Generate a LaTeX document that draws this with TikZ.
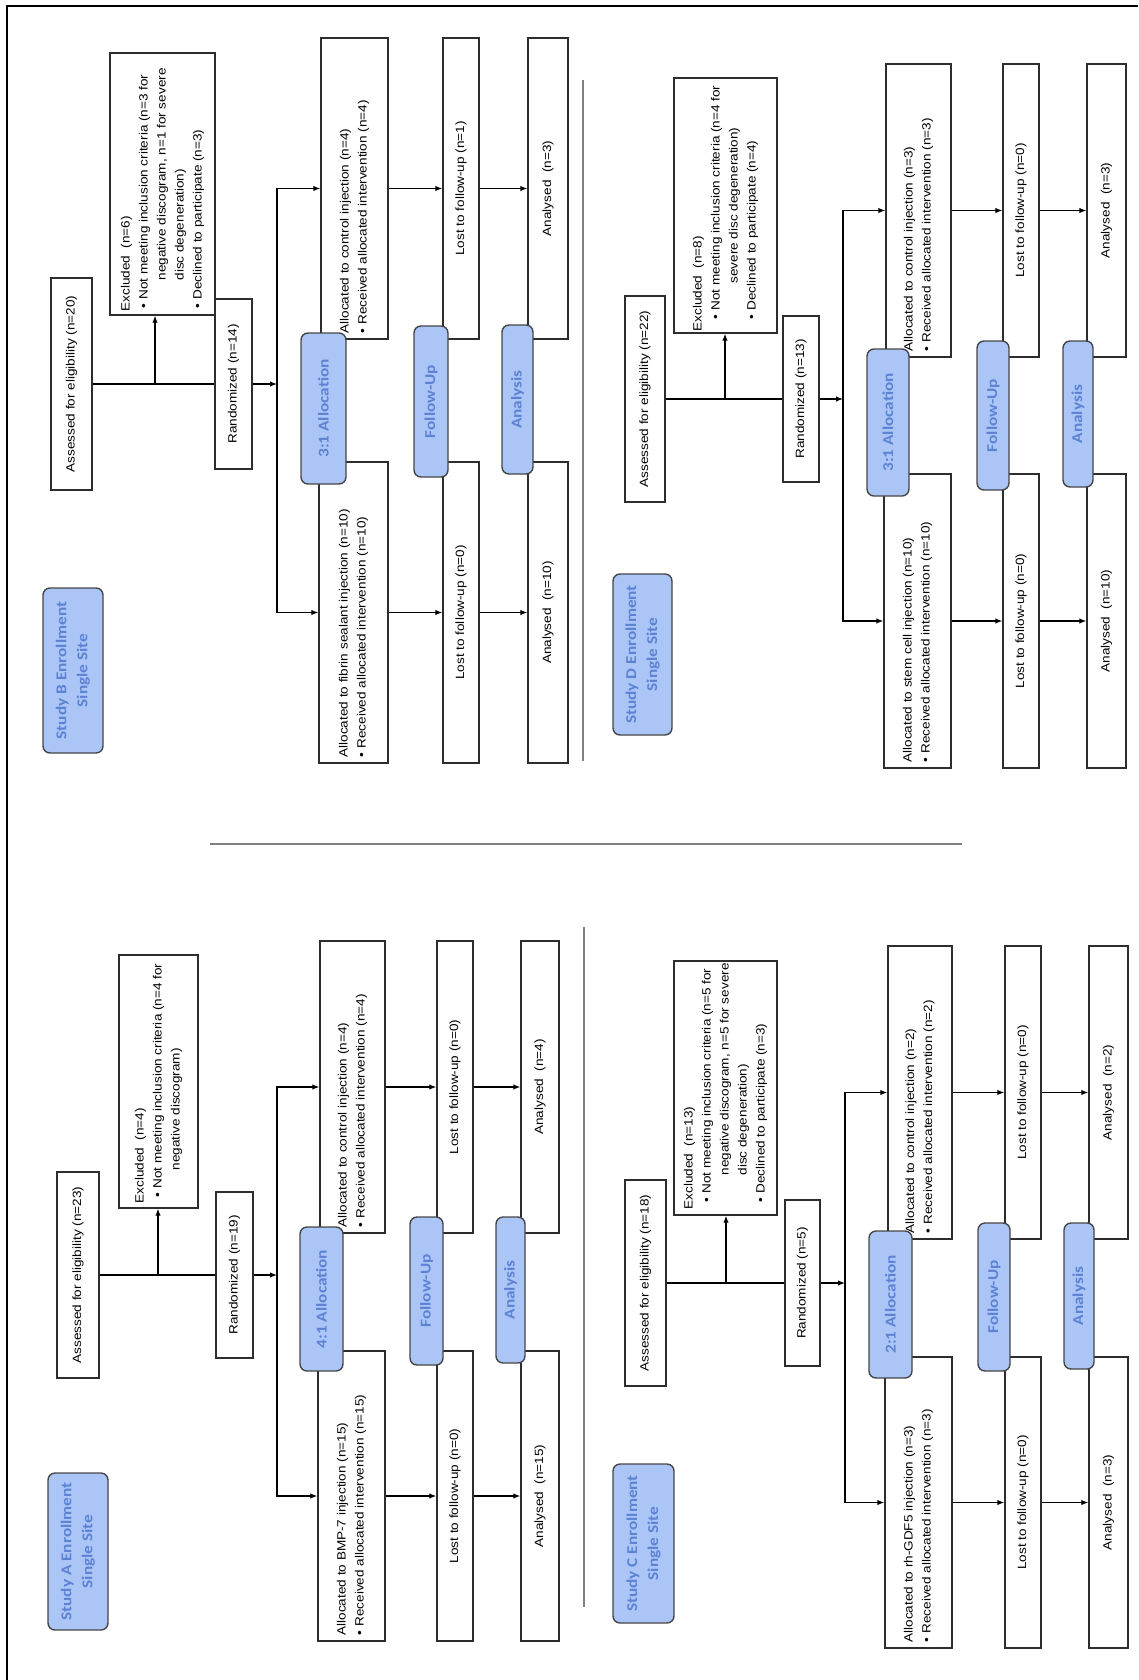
\documentclass[tikz,border=0pt]{standalone}
\usepackage{fontspec}
\usetikzlibrary{arrows.meta}
\newfontfamily\boxfont{Liberation Sans}[FakeStretch=1.13]
\newfontfamily\labfont{Carlito}[FakeStretch=1.15]
\definecolor{lblfill}{RGB}{171,197,246}
\definecolor{lbltext}{RGB}{92,130,212}
\definecolor{lblline}{RGB}{70,70,70}
\definecolor{boxline}{RGB}{45,45,45}
\definecolor{sepgray}{RGB}{128,128,128}
\tikzset{
 box/.style={draw=boxline, line width=1.4pt, rotate=90, inner sep=0pt, align=center,
   font=\boxfont\fontsize{12}{18}\selectfont},
 stage/.style={draw=lblline, fill=lblfill, line width=1.4pt, rounded corners=7pt, rotate=90,
   inner sep=0pt, text=lbltext, align=center, font=\labfont\bfseries\fontsize{15}{21}\selectfont},
 txt/.style={rotate=90, anchor=west, inner sep=0pt, align=left,
   font=\boxfont\fontsize{12}{18}\selectfont},
 ln/.style={line width=1.2pt, black},
 arr/.style={ln, -{Latex[length=7pt,width=5.5pt]}},
 sepline/.style={line width=2.5pt, sepgray},
}
\newcommand{\mkbox}[7][box]{\node[#1,minimum width={#6-#5},minimum height={#4-#3}] (#2) at ({(#3+#4)/2},{-(#5+#6)/2}) {#7};}
\newcommand{\mktxt}[3]{\node[txt] (#1) at (#2.west) {#3};}
\newcommand{\bul}{\makebox[9pt][l]{•}}
\newcommand{\alloctxt}[4]{\mktxt{#1}{#2}{\hspace*{6pt}#3\\\hspace*{6pt}\bul #4}}
\begin{document}
\begin{tikzpicture}[x=1pt,y=1pt]
\useasboundingbox (0,0) rectangle (1138,-1680);
\draw[line width=2pt] (7,-1680) -- (7,-6) -- (1138,-6);
% separators
\draw[sepline] (210,-844) -- (962,-844);
\draw[sepline] (583,-80) -- (583,-761);
\draw[sepline] (584,-927) -- (584,-1607);

%================ Study B
\mkbox{assB}{51}{92}{278}{490}{Assessed for eligibility (n=20)}
\mkbox{exclB}{110}{215}{53}{315}{}
\mkbox{randB}{215}{252}{299}{469}{Randomized (n=14)}
\mkbox{ctrlB}{321}{388}{38}{339}{}
\mkbox{fibB}{319}{388}{462}{763}{}
\mkbox{lostB1}{443}{479}{38}{339}{Lost to follow-up (n=1)}
\mkbox{lostB2}{443}{479}{462}{763}{Lost to follow-up (n=0)}
\mkbox{anB1}{528}{568}{38}{339}{Analysed\ \ (n=3)}
\mkbox{anB2}{528}{568}{462}{763}{Analysed\ \ (n=10)}
\mktxt{exclBt}{exclB}{\hspace*{4pt}Excluded\ \ (n=6)\\
 \hspace*{7pt}\bul Not meeting inclusion criteria (n=3 for\\
 \hspace*{35pt}negative discogram, n=1 for severe\\
 \hspace*{35pt}disc degeneration)\\
 \hspace*{7pt}\bul Declined to participate (n=3)}
\alloctxt{ctrlBt}{ctrlB}{Allocated to control injection (n=4)}{Received allocated intervention (n=4)}
\alloctxt{fibBt}{fibB}{Allocated to fibrin sealant injection (n=10)}{Received allocated intervention (n=10)}
\coordinate (brB) at (155,-384);
\coordinate (spB) at (277,-384);
\draw[ln] (assB.south) -- (randB.north);
\draw[arr] (brB) -- (brB |- exclB.west);
\draw[arr] (randB.south) -- (spB);
\draw[arr] (spB) |- (ctrlB.north);
\draw[arr] (spB) |- (fibB.north);
\draw[arr] (ctrlB.south) -- (lostB1.north);
\draw[arr] (fibB.south) -- (lostB2.north);
\draw[arr] (lostB1.south) -- (anB1.north);
\draw[arr] (lostB2.south) -- (anB2.north);
\mkbox[stage]{labB}{43}{103}{588}{753}{Study B Enrollment\\Single Site}
\mkbox[stage]{allocB}{301}{346}{333}{484}{3:1 Allocation}
\mkbox[stage]{fuB}{414}{448}{326}{477}{Follow-Up}
\mkbox[stage]{anaB}{502}{533}{325}{474}{Analysis}

%================ Study D
\mkbox{assD}{625}{665}{296}{502}{Assessed for eligibility (n=22)}
\mkbox{exclD}{674}{777}{78}{333}{}
\mkbox{randD}{783}{819}{316}{482}{Randomized (n=13)}
\mkbox{ctrlD}{886}{951}{64}{357}{}
\mkbox{stemD}{884}{951}{474}{768}{}
\mkbox{lostD1}{1003}{1039}{64}{357}{Lost to follow-up (n=0)}
\mkbox{lostD2}{1003}{1039}{474}{768}{Lost to follow-up (n=0)}
\mkbox{anD1}{1087}{1126}{64}{357}{Analysed\ \ (n=3)}
\mkbox{anD2}{1087}{1126}{474}{768}{Analysed\ \ (n=10)}
\mktxt{exclDt}{exclD}{\hspace*{2pt}Excluded\ \ (n=8)\\
 \hspace*{14pt}\bul Not meeting inclusion criteria (n=4 for\\
 \hspace*{50pt}severe disc degeneration)\\
 \hspace*{14pt}\bul Declined to participate (n=4)}
\alloctxt{ctrlDt}{ctrlD}{Allocated to control injection (n=3)}{Received allocated intervention (n=3)}
\alloctxt{stemDt}{stemD}{Allocated to stem cell injection (n=10)}{Received allocated intervention (n=10)}
\coordinate (brD) at (725,-399);
\coordinate (spD) at (843,-399);
\draw[ln] (assD.south) -- (randD.north);
\draw[arr] (brD) -- (brD |- exclD.west);
\draw[arr] (randD.south) -- (spD);
\draw[arr] (spD) |- (ctrlD.north);
\draw[arr] (spD) |- (stemD.north);
\draw[arr] (ctrlD.south) -- (lostD1.north);
\draw[arr] (stemD.south) -- (lostD2.north);
\draw[arr] (lostD1.south) -- (anD1.north);
\draw[arr] (lostD2.south) -- (anD2.north);
\mkbox[stage]{labD}{613}{672}{574}{735}{Study D Enrollment\\Single Site}
\mkbox[stage]{allocD}{867}{909}{349}{496}{3:1 Allocation}
\mkbox[stage]{fuD}{977}{1009}{341}{490}{Follow-Up}
\mkbox[stage]{anaD}{1063}{1093}{341}{487}{Analysis}

%================ Study A
\mkbox{assA}{57}{99}{1172}{1378}{Assessed for eligibility (n=23)}
\mkbox{exclA}{119}{198}{955}{1208}{}
\mkbox{randA}{216}{253}{1192}{1358}{Randomized (n=19)}
\mkbox{ctrlA}{320}{385}{941}{1233}{}
\mkbox{bmpA}{318}{385}{1351}{1641}{}
\mkbox{lostA1}{437}{473}{941}{1233}{Lost to follow-up (n=0)}
\mkbox{lostA2}{437}{473}{1351}{1641}{Lost to follow-up (n=0)}
\mkbox{anA1}{521}{559}{941}{1233}{Analysed\ \ (n=4)}
\mkbox{anA2}{521}{559}{1351}{1641}{Analysed\ \ (n=15)}
\mktxt{exclAt}{exclA}{\hspace*{5pt}Excluded\ \ (n=4)\\
 \hspace*{11pt}\bul Not meeting inclusion criteria (n=4 for\\
 \hspace*{38pt}negative discogram)}
\alloctxt{ctrlAt}{ctrlA}{Allocated to control injection (n=4)}{Received allocated intervention (n=4)}
\alloctxt{bmpAt}{bmpA}{Allocated to BMP-7 injection (n=15)}{Received allocated intervention (n=15)}
\coordinate (brA) at (158,-1275);
\coordinate (spA) at (277,-1275);
\draw[ln] (assA.south) -- (randA.north);
\draw[arr] (brA) -- (brA |- exclA.west);
\draw[arr] (randA.south) -- (spA);
\draw[arr] (spA) |- (ctrlA.north);
\draw[arr] (spA) |- (bmpA.north);
\draw[arr] (ctrlA.south) -- (lostA1.north);
\draw[arr] (bmpA.south) -- (lostA2.north);
\draw[arr] (lostA1.south) -- (anA1.north);
\draw[arr] (lostA2.south) -- (anA2.north);
\mkbox[stage]{labA}{48}{108}{1473}{1630}{Study A Enrollment\\Single Site}
\mkbox[stage]{allocA}{300}{343}{1227}{1371}{4:1 Allocation}
\mkbox[stage]{fuA}{410}{443}{1217}{1365}{Follow-Up}
\mkbox[stage]{anaA}{496}{525}{1217}{1363}{Analysis}

%================ Study C
\mkbox{assC}{625}{666}{1180}{1386}{Assessed for eligibility (n=18)}
\mkbox{exclC}{674}{777}{961}{1215}{}
\mkbox{randC}{785}{820}{1200}{1366}{Randomized (n=5)}
\mkbox{ctrlC}{888}{952}{946}{1239}{}
\mkbox{gdfC}{885}{952}{1357}{1648}{}
\mkbox{lostC1}{1005}{1041}{946}{1239}{Lost to follow-up (n=0)}
\mkbox{lostC2}{1005}{1041}{1357}{1648}{Lost to follow-up (n=0)}
\mkbox{anC1}{1089}{1128}{946}{1239}{Analysed\ \ (n=2)}
\mkbox{anC2}{1089}{1128}{1357}{1648}{Analysed\ \ (n=3)}
\mktxt{exclCt}{exclC}{\hspace*{6pt}Excluded\ \ (n=13)\\
 \hspace*{13pt}\bul Not meeting inclusion criteria (n=5 for\\
 \hspace*{40pt}negative discogram, n=5 for severe\\
 \hspace*{40pt}disc degeneration)\\
 \hspace*{13pt}\bul Declined to participate (n=3)}
\alloctxt{ctrlCt}{ctrlC}{Allocated to control injection (n=2)}{Received allocated intervention (n=2)}
\alloctxt{gdfCt}{gdfC}{Allocated to rh-GDF5 injection (n=3)}{Received allocated intervention (n=3)}
\coordinate (brC) at (726,-1283);
\coordinate (spC) at (845,-1283);
\draw[ln] (assC.south) -- (randC.north);
\draw[arr] (brC) -- (brC |- exclC.west);
\draw[arr] (randC.south) -- (spC);
\draw[arr] (spC) |- (ctrlC.north);
\draw[arr] (spC) |- (gdfC.north);
\draw[arr] (ctrlC.south) -- (lostC1.north);
\draw[arr] (gdfC.south) -- (lostC2.north);
\draw[arr] (lostC1.south) -- (anC1.north);
\draw[arr] (lostC2.south) -- (anC2.north);
\mkbox[stage]{labC}{613}{674}{1464}{1623}{Study C Enrollment\\Single Site}
\mkbox[stage]{allocC}{869}{912}{1231}{1378}{2:1 Allocation}
\mkbox[stage]{fuC}{978}{1010}{1223}{1371}{Follow-Up}
\mkbox[stage]{anaC}{1064}{1094}{1223}{1369}{Analysis}
\end{tikzpicture}
\end{document}
